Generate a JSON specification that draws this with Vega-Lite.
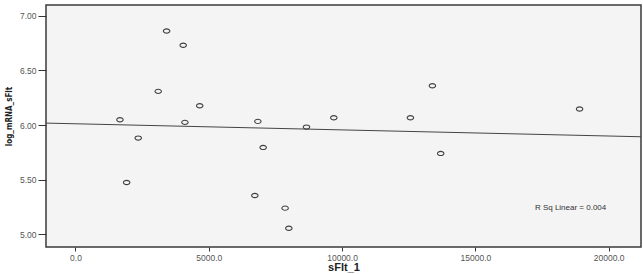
{
  "$schema": "https://vega.github.io/schema/vega-lite/v6.json",
  "autosize": "none",
  "width": 595,
  "height": 242,
  "padding": {"left": 46, "top": 5, "right": 2, "bottom": 27},
  "background": "white",
  "config": {
    "view": {"fill": "#f3f4f3", "stroke": "#3a3a3a", "strokeWidth": 1.5},
    "axis": {"grid": false, "domain": false, "labelFont": "Liberation Sans", "labelFontSize": 8.5, "labelColor": "#555555", "tickColor": "#333333", "titleColor": "#222222"}
  },
  "datasets": {
    "points": [
      {"sFlt_1": 1668, "log_mRNA_sFlt": 6.049},
      {"sFlt_1": 1919, "log_mRNA_sFlt": 5.474},
      {"sFlt_1": 2354, "log_mRNA_sFlt": 5.881},
      {"sFlt_1": 3104, "log_mRNA_sFlt": 6.309},
      {"sFlt_1": 3418, "log_mRNA_sFlt": 6.862},
      {"sFlt_1": 4041, "log_mRNA_sFlt": 6.731},
      {"sFlt_1": 4105, "log_mRNA_sFlt": 6.025},
      {"sFlt_1": 4660, "log_mRNA_sFlt": 6.177},
      {"sFlt_1": 6728, "log_mRNA_sFlt": 5.355},
      {"sFlt_1": 6841, "log_mRNA_sFlt": 6.034},
      {"sFlt_1": 7040, "log_mRNA_sFlt": 5.795},
      {"sFlt_1": 7864, "log_mRNA_sFlt": 5.239},
      {"sFlt_1": 8003, "log_mRNA_sFlt": 5.055},
      {"sFlt_1": 8666, "log_mRNA_sFlt": 5.982},
      {"sFlt_1": 9690, "log_mRNA_sFlt": 6.067},
      {"sFlt_1": 12564, "log_mRNA_sFlt": 6.067},
      {"sFlt_1": 13389, "log_mRNA_sFlt": 6.36},
      {"sFlt_1": 13700, "log_mRNA_sFlt": 5.74},
      {"sFlt_1": 18910, "log_mRNA_sFlt": 6.147}
    ],
    "fit": [
      {"sFlt_1": -1106, "log_mRNA_sFlt": 6.018},
      {"sFlt_1": 21214, "log_mRNA_sFlt": 5.893}
    ],
    "note": [
      {"sFlt_1": 18572, "log_mRNA_sFlt": 5.24, "label": "R Sq Linear = 0.004"}
    ]
  },
  "layer": [
    {
      "data": {"name": "fit"},
      "mark": {"type": "line", "color": "#444444", "strokeWidth": 1, "clip": true},
      "encoding": {
        "x": {"field": "sFlt_1", "type": "quantitative"},
        "y": {"field": "log_mRNA_sFlt", "type": "quantitative"}
      }
    },
    {
      "data": {"name": "points"},
      "mark": {"type": "point", "shape": "M-1,0A1,0.65 0 1,0 1,0A1,0.65 0 1,0 -1,0Z", "filled": false, "stroke": "#404040", "strokeWidth": 1.1, "size": 42, "opacity": 1},
      "encoding": {
        "x": {
          "field": "sFlt_1", "type": "quantitative",
          "scale": {"domain": [-1106, 21214], "nice": false, "zero": false},
          "axis": {"values": [0, 5000, 10000, 15000, 20000], "format": ".1f", "tickSize": 4, "labelPadding": 2, "title": "sFlt_1", "titleFont": "Liberation Sans", "titleFontSize": 11, "titleFontWeight": "bold", "titlePadding": 0}
        },
        "y": {
          "field": "log_mRNA_sFlt", "type": "quantitative",
          "scale": {"domain": [4.883, 7.10], "nice": false, "zero": false},
          "axis": {"values": [5, 5.5, 6, 6.5, 7], "format": ".2f", "tickSize": 8, "labelPadding": 2, "title": "log_mRNA_sFlt", "titleFont": "DejaVu Sans Condensed", "titleFontSize": 8, "titleFontWeight": "bold", "titleX": -37, "titleY": 111, "titleAngle": -90, "titleAlign": "center", "titleBaseline": "middle"}
        }
      }
    },
    {
      "data": {"name": "note"},
      "mark": {"type": "text", "font": "Liberation Sans", "fontSize": 8, "color": "#333333", "align": "center", "baseline": "middle"},
      "encoding": {
        "x": {"field": "sFlt_1", "type": "quantitative"},
        "y": {"field": "log_mRNA_sFlt", "type": "quantitative"},
        "text": {"field": "label"}
      }
    }
  ]
}
